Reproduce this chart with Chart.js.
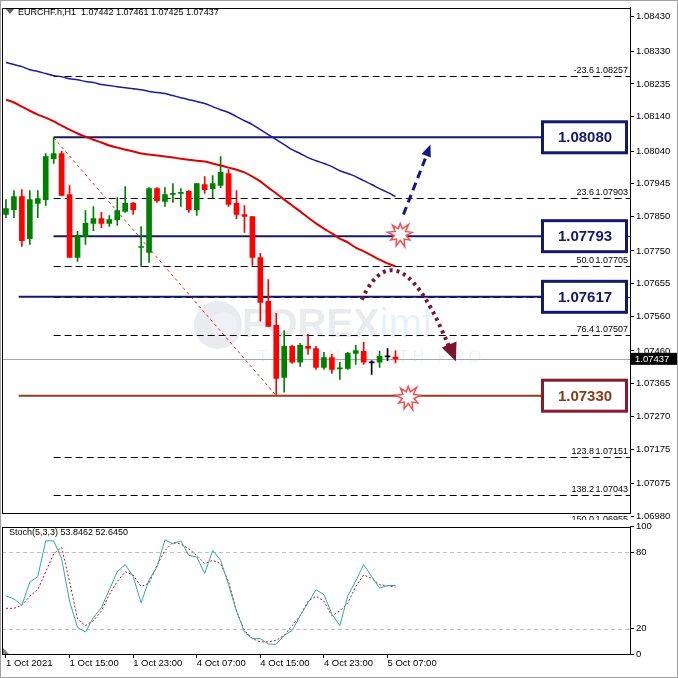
<!DOCTYPE html>
<html><head><meta charset="utf-8">
<script src="https://cdn.jsdelivr.net/npm/chart.js@4"></script>
<style>
html,body{margin:0;padding:0;background:#fff;}
#w{position:relative;width:678px;height:678px;overflow:hidden;background:#fff;}
#c1{position:absolute;left:0;top:0;}
#c2{position:absolute;left:0;top:519px;}
#frame{position:absolute;left:0;top:0;width:676px;height:676px;border:1px solid #a0a0a0;pointer-events:none;}
</style></head>
<body><div id="w"><canvas id="c1" width="678" height="520"></canvas><canvas id="c2" width="678" height="159"></canvas><div id="frame"></div></div>
<script>
// ---------------- DATA ----------------
const timeLabels = ["1 Oct 2021","1 Oct 15:00","1 Oct 23:00","4 Oct 07:00","4 Oct 15:00","4 Oct 23:00","5 Oct 07:00"];
const timeLabelIndex = [0,8,16,24,32,40,48];
const priceTicks = [1.08430,1.08330,1.08235,1.08140,1.08040,1.07945,1.07850,1.07750,1.07655,1.07560,1.07460,1.07365,1.07270,1.07175,1.07075,1.06980];
const openP  = [1.07856,1.07870,1.07908,1.07786,1.07888,1.07899,1.08018,1.08033,1.07914,1.07731,1.07792,1.07830,1.07844,1.07830,1.07841,1.07865,1.07888,1.07760,1.07746,1.07931,1.07894,1.07914,1.07917,1.07923,1.07870,1.07943,1.07931,1.07940,1.07975,1.07888,1.07856,1.07850,1.07731,1.07604,1.07534,1.07383,1.07473,1.07427,1.07473,1.07467,1.07412,1.07441,1.07408,1.07409,1.07453,1.07459,1.07427,1.07427,1.07444,1.07442];
const highP  = [1.07899,1.07925,1.07928,1.07925,1.07925,1.08033,1.08079,1.08039,1.07940,1.07807,1.07867,1.07879,1.07862,1.07853,1.07905,1.07937,1.07891,1.07821,1.07934,1.07934,1.07934,1.07946,1.07931,1.07925,1.07946,1.07966,1.07969,1.08024,1.07986,1.07925,1.07882,1.07850,1.07743,1.07667,1.07569,1.07519,1.07476,1.07482,1.07508,1.07473,1.07456,1.07450,1.07427,1.07456,1.07476,1.07485,1.07432,1.07459,1.07467,1.07461];
const lowP   = [1.07847,1.07847,1.07763,1.07769,1.07847,1.07882,1.08004,1.07911,1.07731,1.07720,1.07769,1.07809,1.07818,1.07821,1.07824,1.07862,1.07856,1.07705,1.07717,1.07891,1.07879,1.07891,1.07879,1.07862,1.07853,1.07917,1.07905,1.07934,1.07879,1.07844,1.07804,1.07708,1.07546,1.07531,1.07334,1.07340,1.07424,1.07415,1.07450,1.07406,1.07406,1.07395,1.07377,1.07406,1.07421,1.07421,1.07392,1.07412,1.07432,1.07425];
const closeP = [1.07873,1.07908,1.07780,1.07899,1.07902,1.08024,1.08033,1.07911,1.07731,1.07795,1.07830,1.07844,1.07830,1.07841,1.07867,1.07888,1.07870,1.07763,1.07931,1.07896,1.07914,1.07917,1.07920,1.07870,1.07946,1.07928,1.07946,1.07978,1.07885,1.07856,1.07850,1.07731,1.07601,1.07531,1.07380,1.07473,1.07427,1.07476,1.07467,1.07412,1.07441,1.07406,1.07409,1.07453,1.07461,1.07427,1.07427,1.07444,1.07444,1.07437];
const maBlue = [1.08297,1.08291,1.08285,1.08276,1.08271,1.08265,1.08259,1.08256,1.08250,1.08247,1.08242,1.08239,1.08233,1.08230,1.08227,1.08224,1.08221,1.08218,1.08213,1.08210,1.08207,1.08201,1.08195,1.08189,1.08184,1.08178,1.08169,1.08160,1.08152,1.08140,1.08128,1.08117,1.08102,1.08088,1.08073,1.08059,1.08044,1.08033,1.08021,1.08012,1.08004,1.07995,1.07983,1.07975,1.07966,1.07954,1.07943,1.07931,1.07920,1.07908];
const maRed = [1.08189,1.08181,1.08169,1.08157,1.08146,1.08137,1.08126,1.08114,1.08102,1.08091,1.08082,1.08073,1.08065,1.08056,1.08050,1.08044,1.08039,1.08033,1.08030,1.08027,1.08024,1.08021,1.08018,1.08015,1.08012,1.08010,1.08004,1.07998,1.07992,1.07986,1.07978,1.07966,1.07952,1.07934,1.07917,1.07899,1.07882,1.07865,1.07847,1.07830,1.07815,1.07801,1.07786,1.07775,1.07760,1.07749,1.07737,1.07725,1.07714,1.07705];
const stochMain = [45.7,43.3,38.2,56.4,60.8,88.9,88.9,74.9,41.5,21.0,17.2,28.7,36.4,50.5,64.6,70.3,60.8,40.2,58.2,68.5,89.7,86.4,88.9,77.4,76.2,63.3,81.3,73.6,54.4,33.8,17.2,12.1,12.1,7.7,7.7,14.6,18.5,30.0,40.2,50.5,46.7,31.3,22.3,45.7,57.4,70.3,60.8,51.8,53.8,53.8462];
const stochSignal = [35.9,35.9,38.2,45.4,50.5,64.6,78.7,83.8,56.9,27.4,22.3,26.2,33.8,46.7,56.9,64.6,62.1,53.1,55.6,69.7,81.3,87.7,86.4,82.6,77.4,71.0,73.6,71.0,56.9,33.8,18.5,12.1,9.5,9.5,10.8,14.6,22.3,30.0,41.5,45.4,41.5,30.0,33.8,40.2,53.1,62.1,59.5,54.4,53.6,52.6450];
const fibLevels = [-23.6,23.6,38.2,50.0,61.8,76.4,123.8,138.2,150.0];
const fibPrices = [1.08257,1.07903,1.07793,1.07705,1.07617,1.07507,1.07151,1.07043,1.06955];
const fibShown  = [true,true,false,true,false,true,true,true,true];
const boxLevels = [1.08080,1.07793,1.07617,1.07330];
const boxStartIdx = [6,6,1.6,1.6];
const currentPrice = 1.07437;
const titleText = "EURCHF.h,H1  1.07442 1.07461 1.07425 1.07437";
const stochTitle = "Stoch(5,3,3) 53.8462 52.6450";
const stochTicks = [100,80,20,0];

// ---------------- HELPERS ----------------
const NSLOT = 79;
const labels = Array.from({length:NSLOT},(_,i)=>{const k=timeLabelIndex.indexOf(i);return k>=0?timeLabels[k]:'';});
const GREEN='#008000', RED='#ff0000';
const cColor = closeP.map((c,i)=> c>openP[i]?GREEN:(c<openP[i]?RED:'#000000'));
const FONT = "Liberation Sans";
Chart.defaults.font.family = FONT;
Chart.defaults.font.size = 10;
Chart.defaults.color = '#000';
Chart.defaults.animation = false;

function xAt(chart, idx){
  const xs = chart.scales.x; const a = xs.getPixelForValue(0), b = xs.getPixelForValue(1);
  return a + (b-a)*idx;
}
function star(ctx, cx, cy, r1, r2, n){
  ctx.beginPath();
  for(let i=0;i<n*2;i++){
    const r = i%2? r2 : r1 * (0.85 + 0.15*((i*7)%3)/2);
    const a = -Math.PI/2 + i*Math.PI/n;
    const x = cx + r*Math.cos(a), y = cy + r*Math.sin(a);
    if(i===0) ctx.moveTo(x,y); else ctx.lineTo(x,y);
  }
  ctx.closePath();
  ctx.fillStyle='#fff'; ctx.fill();
  ctx.strokeStyle='#f05050'; ctx.lineWidth=1.5; ctx.stroke();
}
function arrowHead(ctx, x0,y0,x1,y1, len, wid, color){
  const a = Math.atan2(y1-y0, x1-x0);
  ctx.beginPath();
  ctx.moveTo(x1,y1);
  ctx.lineTo(x1 - len*Math.cos(a) + wid*Math.sin(a), y1 - len*Math.sin(a) - wid*Math.cos(a));
  ctx.lineTo(x1 - len*Math.cos(a) - wid*Math.sin(a), y1 - len*Math.sin(a) + wid*Math.cos(a));
  ctx.closePath(); ctx.fillStyle=color; ctx.fill();
}

const bgPlugin = {
  id:'bg',
  beforeDatasetsDraw(chart){
    const {ctx, chartArea:ca, scales:{y}} = chart;
    ctx.save();
    // watermark
    ctx.globalAlpha=0.22;
    ctx.fillStyle='#9aa3b5';
    ctx.beginPath(); ctx.arc(218,325,24,0,Math.PI*2); ctx.fill();
    ctx.fillStyle='#fff'; ctx.beginPath(); ctx.arc(224,325,13,0,Math.PI*2); ctx.fill();
    ctx.font='bold 40px '+FONT; ctx.textBaseline='middle'; ctx.textAlign='left';
    ctx.fillStyle='#9aa3b5'; ctx.fillText('FOREX',242,326);
    const wF = ctx.measureText('FOREX').width;
    ctx.fillStyle='#8ec5e8'; ctx.font='40px '+FONT; ctx.fillText('imf',242+wF,326);
    ctx.font='16px '+FONT; ctx.fillStyle='#b8bfcc';
    ctx.fillText('T R A D I N G   W I T H   P R O',258,358);
    ctx.restore();
    ctx.save();
    // fib lines
    const x0 = xAt(chart, 6);
    ctx.strokeStyle='#000'; ctx.lineWidth=1; ctx.setLineDash([7,4]);
    fibPrices.forEach(p=>{ const yy=Math.round(y.getPixelForValue(p))+0.5;
      ctx.beginPath(); ctx.moveTo(x0,yy); ctx.lineTo(ca.right,yy); ctx.stroke(); });
    ctx.setLineDash([]);
    ctx.font='9px '+FONT; ctx.textBaseline='bottom';
    fibPrices.forEach((p,i)=>{ if(!fibShown[i]) return; const yy=y.getPixelForValue(p)-1;
      ctx.textAlign='right'; ctx.fillText(fibLevels[i].toFixed(1), 594, yy);
      ctx.fillText(p.toFixed(5), 628, yy); });
    // fib diagonal
    ctx.strokeStyle='#e03020'; ctx.setLineDash([3,3]);
    ctx.beginPath(); ctx.moveTo(xAt(chart,6), y.getPixelForValue(1.08079)); ctx.lineTo(xAt(chart,34), y.getPixelForValue(1.07330)); ctx.stroke();
    ctx.setLineDash([]);
    // current price line
    const cy = Math.round(y.getPixelForValue(currentPrice))+0.5;
    ctx.strokeStyle='#a0a8b0'; ctx.beginPath(); ctx.moveTo(ca.left,cy); ctx.lineTo(ca.right,cy); ctx.stroke();
    // level lines
    boxLevels.forEach((p,i)=>{ const yy=y.getPixelForValue(p);
      ctx.strokeStyle = i===3 ? '#9a3a1a' : '#141a6a'; ctx.lineWidth=2;
      ctx.beginPath(); ctx.moveTo(xAt(chart,boxStartIdx[i]),yy); ctx.lineTo(542,yy); ctx.stroke(); });
    ctx.restore();
  },
  afterDatasetsDraw(chart){
    const {ctx, chartArea:ca, scales:{y}} = chart;
    ctx.save();
    boxLevels.forEach((p,i)=>{ const yy=y.getPixelForValue(p);
      const col = i===3 ? '#8b1a2e' : '#141a6a';
      ctx.fillStyle='#fff'; ctx.fillRect(541,yy-16,86,32);
      ctx.strokeStyle=col; ctx.lineWidth=3; ctx.strokeRect(542.5,yy-15.5,84,31);
      ctx.fillStyle= i===3 ? '#8b3a1a' : '#141a6a';
      ctx.font='bold 15px '+FONT; ctx.textAlign='center'; ctx.textBaseline='middle';
      ctx.fillText(p.toFixed(5),585,yy+1); });
    const bx0=xAt(chart,50), by0=y.getPixelForValue(1.07856), bx1=xAt(chart,53.4), by1=y.getPixelForValue(1.08059);
    ctx.strokeStyle='#141a80'; ctx.lineWidth=3; ctx.setLineDash([8,5]);
    ctx.beginPath(); ctx.moveTo(bx0,by0); ctx.lineTo(bx1-2,by1+6); ctx.stroke(); ctx.setLineDash([]);
    arrowHead(ctx,bx0,by0,bx1,by1,12,5,'#141a80');
    const mx0=xAt(chart,44.75), my0=y.getPixelForValue(1.07609), mcx=xAt(chart,49.4), mcy=y.getPixelForValue(1.07836), mx1=xAt(chart,56.6), my1=y.getPixelForValue(1.07430);
    ctx.strokeStyle='#7a1530'; ctx.lineWidth=4; ctx.setLineDash([3,4]);
    ctx.beginPath(); ctx.moveTo(mx0,my0); ctx.quadraticCurveTo(mcx,mcy,mx1-5,my1-10); ctx.stroke(); ctx.setLineDash([]);
    arrowHead(ctx,mcx,mcy,mx1,my1,18,8,'#7a1530');
    star(ctx,xAt(chart,49.6),y.getPixelForValue(1.07798),13,6,9);
    star(ctx,xAt(chart,50.6),y.getPixelForValue(1.07325),13,6,9);
    const cy=y.getPixelForValue(currentPrice);
    ctx.fillStyle='#000'; ctx.fillRect(631,cy-6,47,12);
    ctx.fillStyle='#fff'; ctx.font='9.5px '+FONT; ctx.textAlign='left'; ctx.textBaseline='middle';
    ctx.fillText(currentPrice.toFixed(5),635,cy+0.5);
    ctx.fillStyle='#000'; ctx.font='9px '+FONT; ctx.textBaseline='alphabetic';
    ctx.fillText(titleText,18,15);
    ctx.beginPath(); ctx.moveTo(6,9); ctx.lineTo(14,9); ctx.lineTo(10,14); ctx.closePath(); ctx.fillStyle='#606060'; ctx.fill();
    ctx.strokeStyle='#000'; ctx.lineWidth=1;
    ctx.strokeRect(Math.round(ca.left)+0.5, Math.round(ca.top)+0.5, Math.round(ca.right-ca.left), Math.round(ca.bottom-ca.top));
    ctx.restore();
  }
};

const yFit = (w)=> (s)=>{ s.width = w; };

new Chart(document.getElementById('c1'), {
  type:'bar',
  data:{ labels, datasets:[
    {type:'line', data:maBlue, borderColor:'#1a1aa8', borderWidth:1.5, pointRadius:0, tension:0.3, order:1},
    {type:'line', data:maRed, borderColor:'#e00000', borderWidth:2, pointRadius:0, tension:0.3, order:1},
    {data: lowP.map((l,i)=>[l,highP[i]]), backgroundColor:cColor, barThickness:1, grouped:false, order:3},
    {data: openP.map((o,i)=> o===closeP[i] ? [o-0.000015,o+0.000015] : [o,closeP[i]]), backgroundColor:cColor, barThickness:5, grouped:false, minBarLength:1, order:2}
  ]},
  options:{ responsive:false, maintainAspectRatio:false,
    layout:{padding:{left:2,top:0,bottom:2,right:0}},
    plugins:{legend:{display:false}, tooltip:{enabled:false}},
    scales:{
      x:{display:false, offset:true},
      y:{position:'right', min:1.069916, max:1.084561, afterFit:yFit(48),
        afterBuildTicks:(s)=>{ s.ticks = priceTicks.map(v=>({value:v})); },
        grid:{drawOnChartArea:false, tickLength:4, color:'#000'}, border:{color:'#000'},
        ticks:{callback:(v)=>Number(v).toFixed(5), font:{size:9.5}, padding:2, color:'#000'} }
    }
  },
  plugins:[bgPlugin]
});

const stochPlugin = {
  id:'st',
  beforeDatasetsDraw(chart){
    const {ctx, chartArea:ca, scales:{y}} = chart;
    ctx.save(); ctx.strokeStyle='#c0c0c0'; ctx.setLineDash([4,3]); ctx.lineWidth=1;
    [80,20].forEach(v=>{ const yy=Math.round(y.getPixelForValue(v))+0.5; ctx.beginPath(); ctx.moveTo(ca.left,yy); ctx.lineTo(ca.right,yy); ctx.stroke(); });
    ctx.restore();
  },
  afterDatasetsDraw(chart){
    const {ctx, chartArea:ca} = chart;
    ctx.save(); ctx.fillStyle='#000'; ctx.font='9px '+FONT; ctx.fillText(stochTitle,9,16);
    ctx.strokeStyle='#000'; ctx.lineWidth=1;
    ctx.strokeRect(Math.round(ca.left)+0.5, Math.round(ca.top)+0.5, Math.round(ca.right-ca.left), Math.round(ca.bottom-ca.top));
    ctx.fillStyle='#808080'; ctx.beginPath(); ctx.moveTo(ca.left+1,ca.bottom-6); ctx.lineTo(ca.left+7,ca.bottom); ctx.lineTo(ca.left+1,ca.bottom); ctx.fill();
    ctx.restore();
  }
};

new Chart(document.getElementById('c2'), {
  type:'line',
  data:{ labels, datasets:[
    {data:stochMain, borderColor:'#30a8a8', borderWidth:1, pointRadius:0},
    {data:stochSignal, borderColor:'#d01010', borderWidth:1, borderDash:[2,2], pointRadius:0}
  ]},
  options:{ responsive:false, maintainAspectRatio:false,
    layout:{padding:{left:2,top:4,bottom:0,right:0}},
    plugins:{legend:{display:false}, tooltip:{enabled:false}},
    scales:{
      x:{offset:true, grid:{drawOnChartArea:false, tickLength:4, color:(c)=> labels[c.index]? '#000':'rgba(0,0,0,0)'}, border:{color:'#000'},
        ticks:{autoSkip:false, maxRotation:0, align:'start', padding:0, font:{size:9.5}, color:'#000', callback:(v,i)=>labels[i]},
        afterFit:(s)=>{ s.height = 24; } },
      y:{position:'right', min:0, max:100, afterFit:yFit(48),
        afterBuildTicks:(s)=>{ s.ticks = stochTicks.map(v=>({value:v})); },
        grid:{drawOnChartArea:false, tickLength:4, color:'#000'}, border:{color:'#000'},
        ticks:{font:{size:9.5}, padding:2, color:'#000'} }
    }
  },
  plugins:[stochPlugin]
});
</script></body></html>
